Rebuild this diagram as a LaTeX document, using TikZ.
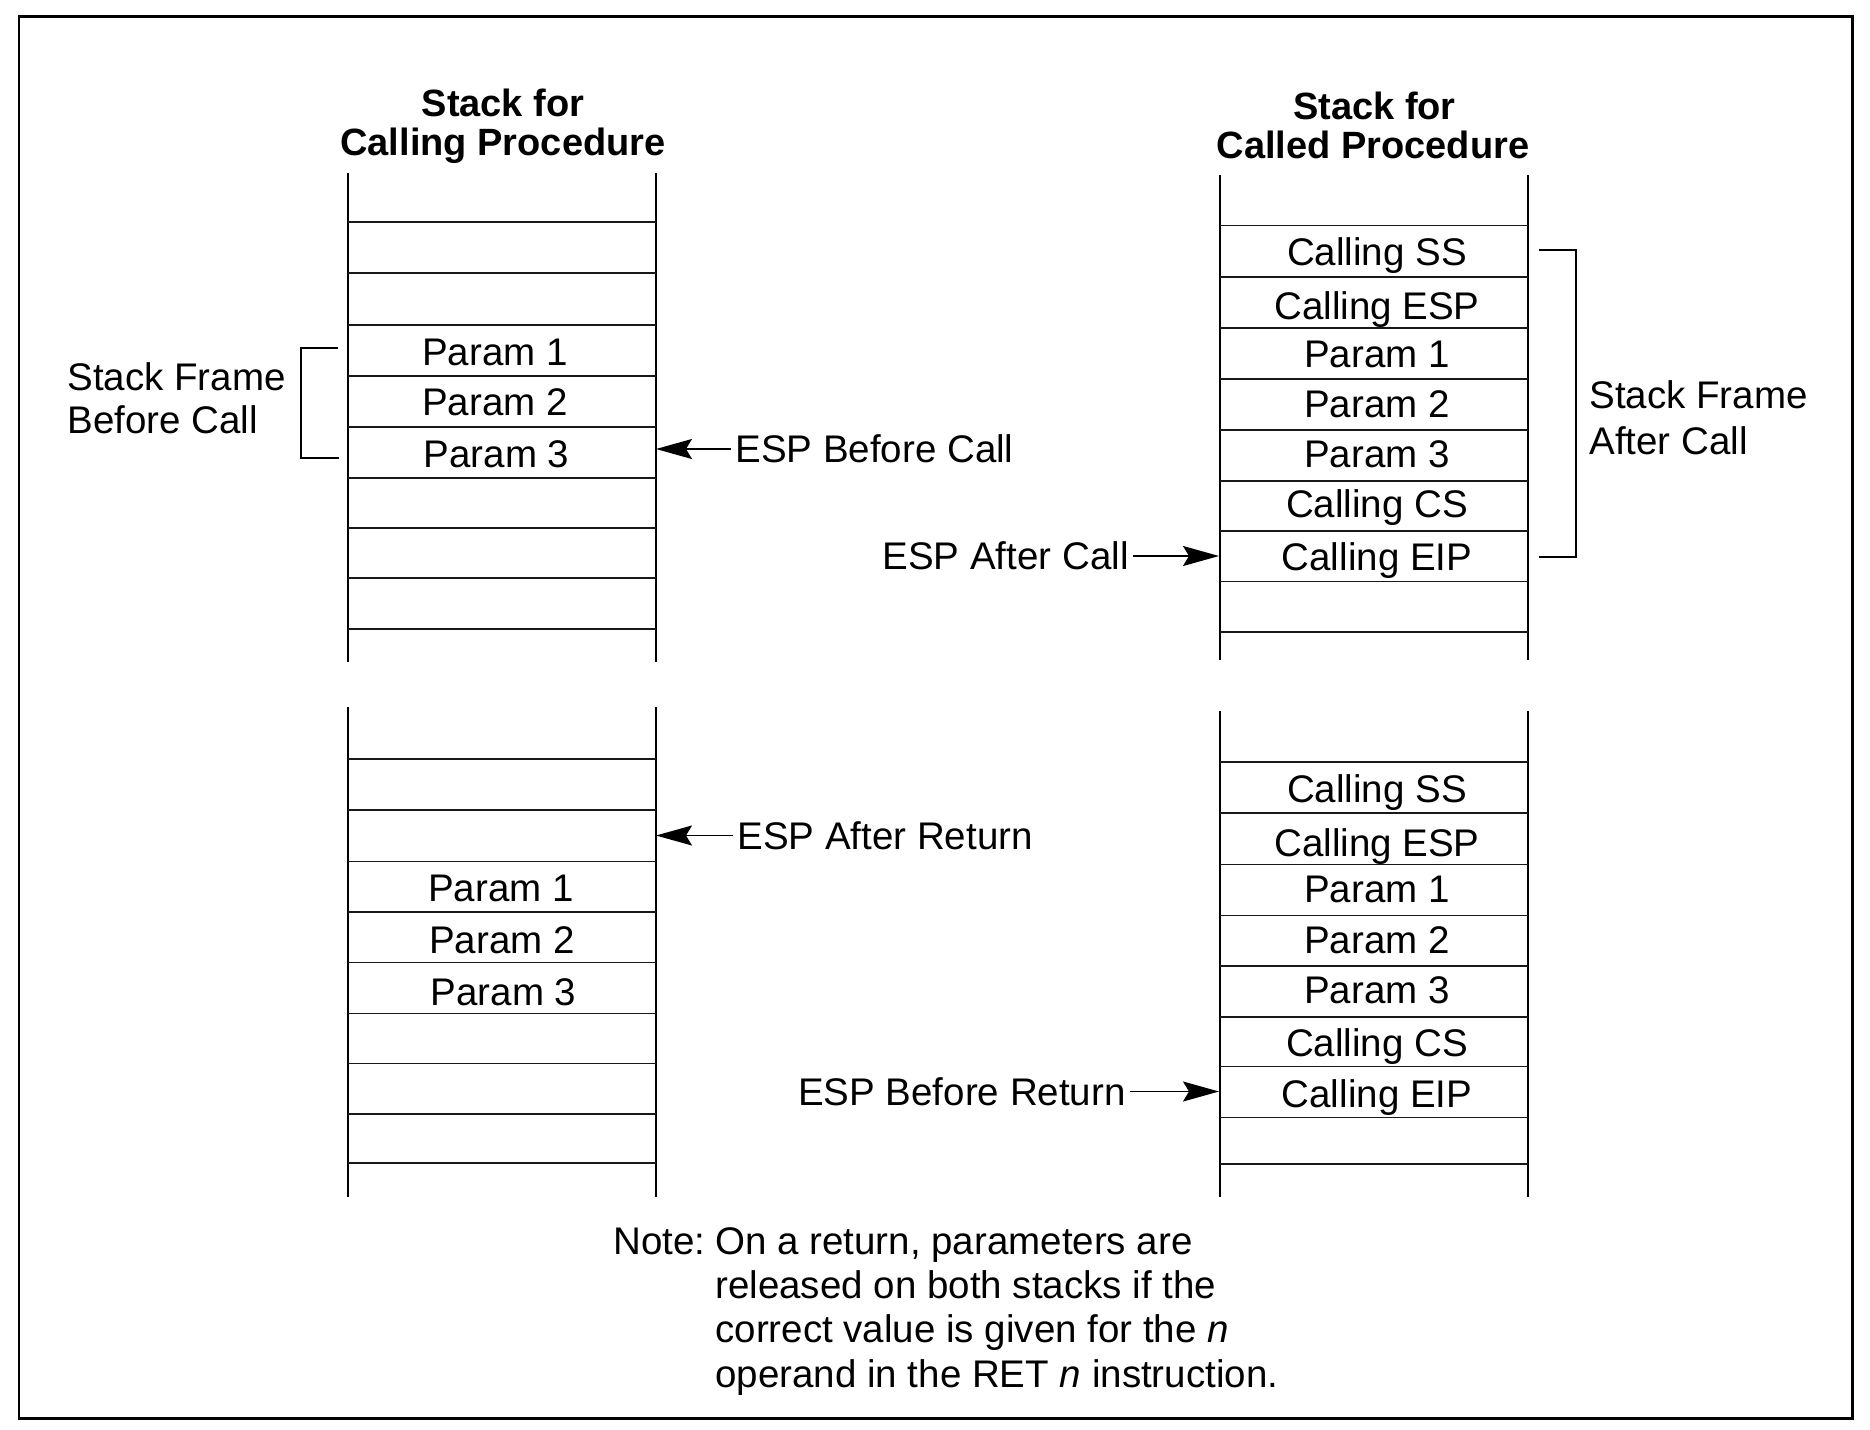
\documentclass[tikz,border=0pt]{standalone}
\usepackage{fontspec}
\setmainfont{Liberation Sans}
\usetikzlibrary{arrows.meta}
\tikzset{
  every node/.style={font=\fontsize{19.25pt}{23pt}\selectfont, inner sep=0pt},
  cell/.style={anchor=base},
  titletext/.style={anchor=base, font=\fontsize{19pt}{23pt}\selectfont\bfseries},
  sidetext/.style={anchor=base west},
  esplabel/.style={inner xsep=2pt, inner ysep=0pt, text height=13.7pt, text depth=0pt},
  stackline/.style={line width=1pt},
  rowline/.style={line width=0.85pt, black!90},
  bracketline/.style={line width=1pt},
  pointer/.style={line width=0.8pt, -{Stealth[length=18pt,width=10pt,inset=3pt]}},
  frameline/.style={line width=1.25pt}
}
\begin{document}
\begin{tikzpicture}[x=0.5pt,y=-0.5pt]
\useasboundingbox (0,0) rectangle (1870,1430);
\draw[frameline] (19,16.5) rectangle (1852.5,1418.5);

% ---------- titles ----------
\node[titletext] (t1a) at (503,116) {Stack for};
\node[titletext] (t1b) at (503,155) {Calling Procedure};
\node[titletext] (t2a) at (1374.5,119.5) {Stack for};
\node[titletext] (t2b) at (1373,158.5) {Called Procedure};

% ---------- upper left stack ----------
\draw[stackline] (348,173) -- (348,662) (656,173) -- (656,662);
\foreach \y in {222,273,325,376,427,478,528,578,629}
  \draw[rowline] (348,\y) -- (656,\y);
\node[cell] (ulp1) at (495,365) {Param 1};
\node[cell] (ulp2) at (495,415) {Param 2};
\node[cell] (ulp3) at (496.5,467) {Param 3};

% ---------- upper right stack ----------
\draw[stackline] (1220,175) -- (1220,660) (1528,175) -- (1528,660);
\foreach \y in {225.5,277,328,379,430,481,531,581.5,632}
  \draw[rowline] (1220,\y) -- (1528,\y);
\node[cell] (urss)  at (1377,265)   {Calling SS};
\node[cell] (uresp) at (1377,319)   {Calling ESP};
\node[cell] (urp1)  at (1377,367)   {Param 1};
\node[cell] (urp2)  at (1377,417)   {Param 2};
\node[cell] (urp3)  at (1377,467.5) {Param 3};
\node[cell] (urcs)  at (1377,517.5) {Calling CS};
\node[cell] (ureip) at (1377,570)   {Calling EIP};

% ---------- lower left stack ----------
\draw[stackline] (348,707) -- (348,1197) (656,707) -- (656,1197);
\foreach \y in {759,810,861.5,912,962.5,1013.5,1063.5,1114,1163}
  \draw[rowline] (348,\y) -- (656,\y);
\node[cell] (llp1) at (501,901)  {Param 1};
\node[cell] (llp2) at (502,953)  {Param 2};
\node[cell] (llp3) at (503.5,1005) {Param 3};

% ---------- lower right stack ----------
\draw[stackline] (1220,711) -- (1220,1197) (1528,711) -- (1528,1197);
\foreach \y in {762,813,864.5,915.5,966,1017,1066.5,1117.5,1164}
  \draw[rowline] (1220,\y) -- (1528,\y);
\node[cell] (lrss)  at (1377,802)    {Calling SS};
\node[cell] (lresp) at (1377,856)    {Calling ESP};
\node[cell] (lrp1)  at (1377,902.5)  {Param 1};
\node[cell] (lrp2)  at (1377,953.5)  {Param 2};
\node[cell] (lrp3)  at (1377,1003.5) {Param 3};
\node[cell] (lrcs)  at (1377,1056)   {Calling CS};
\node[cell] (lreip) at (1377,1107)   {Calling EIP};

% ---------- stack frame brackets ----------
\draw[bracketline] (338,348) -- (301,348) -- (301,457.5) -- (339,457.5);
\node[sidetext] (sfb1) at (67,390) {Stack Frame};
\node[sidetext] (sfb2) at (67,433) {Before Call};

\draw[bracketline] (1539,250) -- (1576,250) -- (1576,557) -- (1539,557);
\node[sidetext] (sfa1) at (1589,408) {Stack Frame};
\node[sidetext] (sfa2) at (1589,454) {After Call};

% ---------- ESP pointers ----------
\coordinate (tipbc) at (656,449);
\node[esplabel, anchor=west] (espbc) at (731,449) {ESP Before Call};
\draw[pointer] (espbc.west) -- (tipbc);

\coordinate (tipac) at (1219,556);
\node[esplabel, anchor=east] (espac) at (1133,556) {ESP After Call};
\draw[pointer] (espac.east) -- (tipac);

\coordinate (tipar) at (656,835.5);
\node[esplabel, anchor=west] (espar) at (733,835.5) {ESP After Return};
\draw[pointer] (espar.west) -- (tipar);

\coordinate (tipbr) at (1219,1091.5);
\node[esplabel, anchor=east] (espbr) at (1130,1091.5) {ESP Before Return};
\draw[pointer] (espbr.east) -- (tipbr);

% ---------- note ----------
\node[sidetext] (notelbl) at (613,1254) {Note:};
\node[sidetext] (note1) at (715,1254)   {On a return, parameters are};
\node[sidetext] (note2) at (715,1298.3) {released on both stacks if the};
\node[sidetext] (note3) at (715,1342.6) {correct value is given for the \textit{n}};
\node[sidetext] (note4) at (715,1387)   {operand in the RET \textit{n} instruction.};
\end{tikzpicture}
\end{document}
